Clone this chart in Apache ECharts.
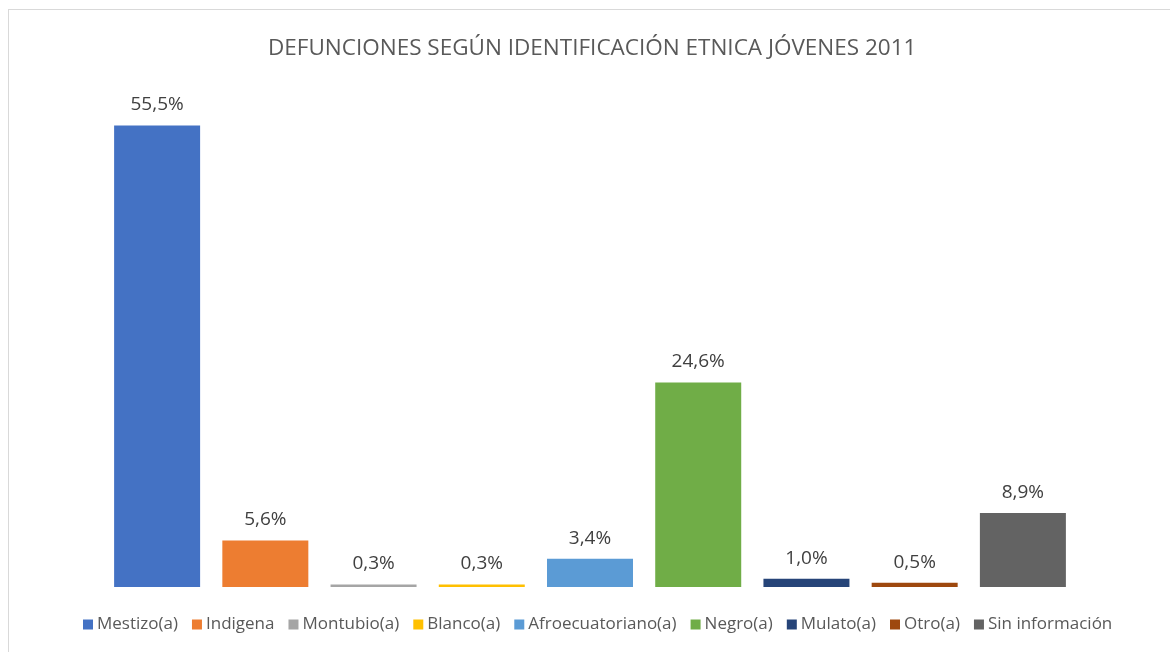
<!DOCTYPE html>
<html><head><meta charset="utf-8">
<script src="https://cdn.jsdelivr.net/npm/echarts@6/dist/echarts.min.js"></script>
<style>
html,body{margin:0;padding:0;background:#fff;}
#frame{position:absolute;left:8px;top:9px;width:1200px;height:700px;border-left:1px solid #d9d9d9;border-top:1px solid #d9d9d9;}
#c{position:absolute;left:0;top:0;width:1170px;height:652px;}
</style></head>
<body>
<div id="frame"></div>
<div id="c"></div>
<script>
const categories = ["Mestizo(a)","Indigena","Montubio(a)","Blanco(a)","Afroecuatoriano(a)","Negro(a)","Mulato(a)","Otro(a)","Sin información"];
const values = [55.5, 5.6, 0.3, 0.3, 3.4, 24.6, 1.0, 0.5, 8.9];
const colors = ["#4472C4","#ED7D31","#A5A5A5","#FFC000","#5B9BD5","#70AD47","#264478","#9E480E","#636363"];
const titleText = "DEFUNCIONES SEGÚN IDENTIFICACIÓN ETNICA JÓVENES 2011";

const font = "'Open Sans', 'Noto Sans', sans-serif";
const series = categories.map((name, i) => ({
  name: name,
  type: 'bar',
  stack: 'all',
  barWidth: 86,
  itemStyle: { color: colors[i] },
  data: categories.map((_, j) => j === i ? values[i] : '-'),
  label: {
    show: true, position: 'top', distance: 11,
    color: '#404040', fontSize: 19, fontFamily: font,
    formatter: p => p.value.toFixed(1).replace('.', ',') + '%'
  }
}));

const chart = echarts.init(document.getElementById('c'));
chart.setOption({
  animation: false,
  title: {
    text: titleText, left: 263, top: 32,
    textStyle: { fontFamily: font, fontSize: 22.5, fontWeight: 'normal', color: '#595959' }
  },
  legend: {
    data: categories, top: 611, left: 78,
    itemWidth: 10, itemHeight: 10, itemGap: 14, icon: 'rect',
    textStyle: { fontFamily: font, fontSize: 17, color: '#595959', padding: [0,0,0,-1] }
  },
  grid: { left: 103, right: 93, top: 88, bottom: 65 },
  xAxis: {
    type: 'category', data: categories,
    axisLine: { show: false }, axisTick: { show: false }, axisLabel: { show: false }
  },
  yAxis: {
    type: 'value', min: 0, max: 60, show: false, splitLine: { show: false }
  },
  series: series
});
</script>
</body></html>
